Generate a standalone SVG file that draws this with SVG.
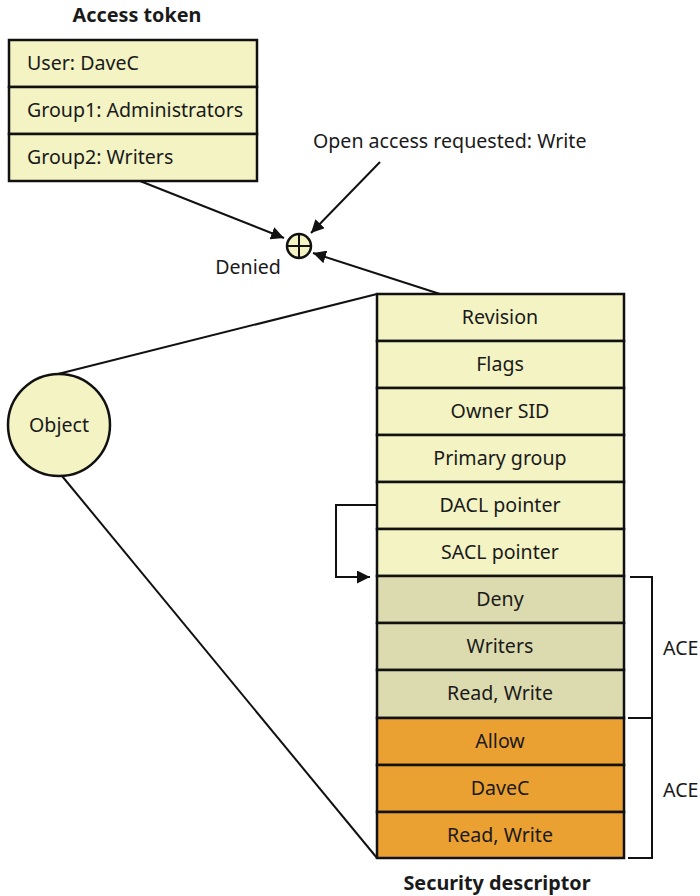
<svg xmlns="http://www.w3.org/2000/svg" width="700" height="896" viewBox="0 0 700 896">
<style>
text{font-family:"Noto Sans","Open Sans","Liberation Sans",sans-serif;font-size:19.6px;fill:#1a1a1a}
.b{font-weight:bold;font-size:19.8px}
.c{text-anchor:middle}
.box{stroke:#111;stroke-width:2.5}
.y{fill:#F3F3C4}
.t{fill:#DCDAAF}
.o{fill:#EBA032}
.ln{stroke:#111;stroke-width:2;fill:none}
</style>
<defs>
<marker id="ah" viewBox="0 0 10 10" refX="10" refY="5" markerWidth="6.5" markerHeight="6.5" orient="auto" markerUnits="strokeWidth">
<path d="M0,0 L10,5 L0,10 z" fill="#111"/>
</marker>
</defs>
<g id="connectors">
<line class="ln" x1="140" y1="181" x2="284" y2="238" marker-end="url(#ah)"/>
<line class="ln" x1="380" y1="162" x2="311" y2="233" marker-end="url(#ah)"/>
<line class="ln" x1="440" y1="294" x2="313" y2="253" marker-end="url(#ah)"/>
<line class="ln" x1="50" y1="376" x2="377" y2="294"/>
<line class="ln" x1="62" y1="476" x2="377" y2="858"/>
<polyline class="ln" points="377,505 336,505 336,577 370,577" marker-end="url(#ah)"/>
<polyline class="ln" points="630,577 652,577 652,718 628,718"/>
<polyline class="ln" points="652,718 652,858 628,858"/>
</g>
<g id="access-token">
<text class="b c" x="137" y="22">Access token</text>
<rect class="box y" x="9" y="40" width="248" height="47"/>
<rect class="box y" x="9" y="87" width="248" height="47"/>
<rect class="box y" x="9" y="134" width="248" height="47"/>
<text x="27" y="70">User: DaveC</text>
<text x="27" y="117">Group1: Administrators</text>
<text x="27" y="164">Group2: Writers</text>
</g>
<g id="request">
<text x="313" y="148">Open access requested: Write</text>
</g>
<g id="check">
<circle class="box y" cx="299" cy="246" r="12"/>
<line class="ln" x1="287" y1="246" x2="311" y2="246"/>
<line class="ln" x1="299" y1="234" x2="299" y2="258"/>
<text class="c" x="248" y="274">Denied</text>
</g>
<g id="object">
<circle class="box y" cx="59" cy="425" r="51"/>
<text class="c" x="59" y="432">Object</text>
</g>
<g id="security-descriptor">
<rect class="box y" x="377" y="294" width="247" height="47"/>
<rect class="box y" x="377" y="341" width="247" height="47"/>
<rect class="box y" x="377" y="388" width="247" height="47"/>
<rect class="box y" x="377" y="435" width="247" height="47"/>
<rect class="box y" x="377" y="482" width="247" height="47"/>
<rect class="box y" x="377" y="529" width="247" height="47"/>
<rect class="box t" x="377" y="576" width="247" height="47"/>
<rect class="box t" x="377" y="623" width="247" height="47"/>
<rect class="box t" x="377" y="670" width="247" height="48"/>
<rect class="box o" x="377" y="718" width="247" height="47"/>
<rect class="box o" x="377" y="765" width="247" height="47"/>
<rect class="box o" x="377" y="812" width="247" height="46"/>
<text class="c" x="500" y="324">Revision</text>
<text class="c" x="500" y="371">Flags</text>
<text class="c" x="500" y="418">Owner SID</text>
<text class="c" x="500" y="465">Primary group</text>
<text class="c" x="500" y="512">DACL pointer</text>
<text class="c" x="500" y="559">SACL pointer</text>
<text class="c" x="500" y="606">Deny</text>
<text class="c" x="500" y="653">Writers</text>
<text class="c" x="500" y="700">Read, Write</text>
<text class="c" x="500" y="748">Allow</text>
<text class="c" x="500" y="795">DaveC</text>
<text class="c" x="500" y="842">Read, Write</text>
<text class="b c" x="497" y="890">Security descriptor</text>
</g>
<g id="ace-labels">
<text x="663" y="655">ACE</text>
<text x="663" y="797">ACE</text>
</g>
</svg>
